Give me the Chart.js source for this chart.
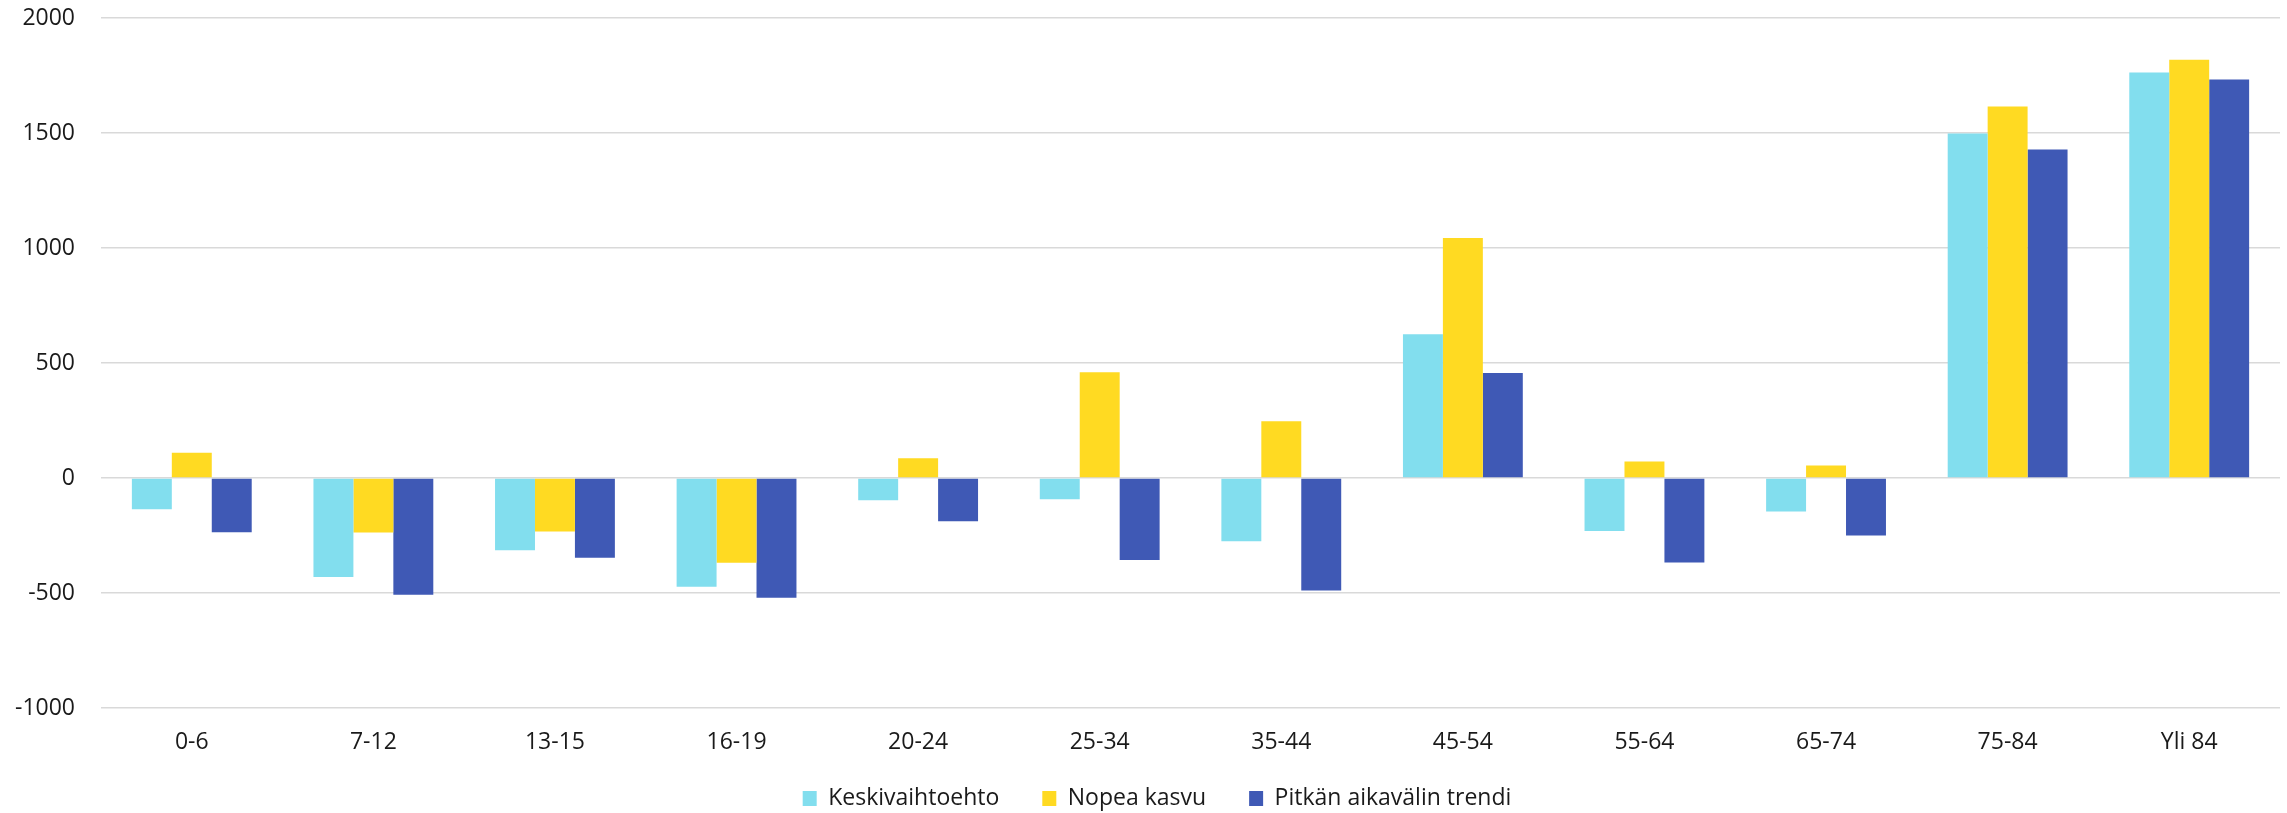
<!DOCTYPE html>
<html>
<head>
<meta charset="utf-8">
<script src="https://cdn.jsdelivr.net/npm/chart.js@4"></script>
<style>
  html, body { margin: 0; padding: 0; background: #ffffff; }
  #wrap { width: 2287px; height: 813px; }
</style>
</head>
<body>
<div id="wrap"><canvas id="c" width="2287" height="813"></canvas></div>
<script>
const categories = ["0-6", "7-12", "13-15", "16-19", "20-24", "25-34", "35-44", "45-54", "55-64", "65-74", "75-84", "Yli 84"];
const keskivaihtoehto = [-136, -430, -314, -473, -97, -92, -275, 625, -230, -146, 1498, 1763];
const nopeaKasvu = [110, -237, -233, -369, 86, 460, 247, 1043, 72, 54, 1615, 1818];
const pitkanTrendi = [-236, -508, -347, -521, -188, -357, -489, 456, -367, -250, 1428, 1733];
const seriesNames = ["Keskivaihtoehto", "Nopea kasvu", "Pitkän aikavälin trendi"];
const yTicks = [-1000, -500, 0, 500, 1000, 1500, 2000];

const FONT = "'Open Sans', 'Noto Sans', sans-serif";
const TEXT = "#1a1a1a";

const legendShift = {
  id: 'legendShift',
  afterLayout(chart) {
    const lg = chart.legend;
    if (!lg) return;
    const p = lg.options.labels.padding;
    const ih = 23;
    lg.top = 798.5 - p - ih / 2;
    lg.bottom = 813;
    lg.height = lg.bottom - lg.top;
    lg.left += 17;
    lg.right += 17;
  }
};

new Chart(document.getElementById('c'), {
  type: 'bar',
  data: {
    labels: categories,
    datasets: [
      { label: seriesNames[0], data: keskivaihtoehto, backgroundColor: '#82DEEE' },
      { label: seriesNames[1], data: nopeaKasvu, backgroundColor: '#FFDA22' },
      { label: seriesNames[2], data: pitkanTrendi, backgroundColor: '#3F59B5' }
    ]
  },
  options: {
    responsive: false,
    animation: false,
    devicePixelRatio: 1,
    layout: { padding: { top: 18, right: 7, bottom: 0, left: 0 } },
    datasets: { bar: { categoryPercentage: 0.66, barPercentage: 1.0, borderWidth: 0 } },
    scales: {
      x: {
        grid: { display: false, drawTicks: false },
        border: { display: false },
        ticks: { color: TEXT, font: { family: FONT, size: 23 }, padding: 21, maxRotation: 0, autoSkip: false },
        afterFit(scale) { scale.height = 75; }
      },
      y: {
        min: -1000,
        max: 2000,
        afterBuildTicks(scale) { scale.ticks = yTicks.map(v => ({ value: v })); },
        grid: { color: '#d9d9d9', lineWidth: 1.6, drawTicks: true, tickLength: 26, tickColor: 'rgba(0,0,0,0)' },
        border: { display: false },
        ticks: { color: TEXT, font: { family: FONT, size: 23 }, padding: 0, callback: (v) => String(v) },
        afterFit(scale) { scale.width = 101; }
      }
    },
    plugins: {
      legend: {
        position: 'bottom',
        maxHeight: 30,
        labels: {
          color: TEXT,
          font: { family: FONT, size: 23 },
          boxWidth: 14,
          boxHeight: 15,
          padding: 43
        }
      },
      tooltip: { enabled: false }
    }
  },
  plugins: [legendShift]
});
</script>
</body>
</html>
